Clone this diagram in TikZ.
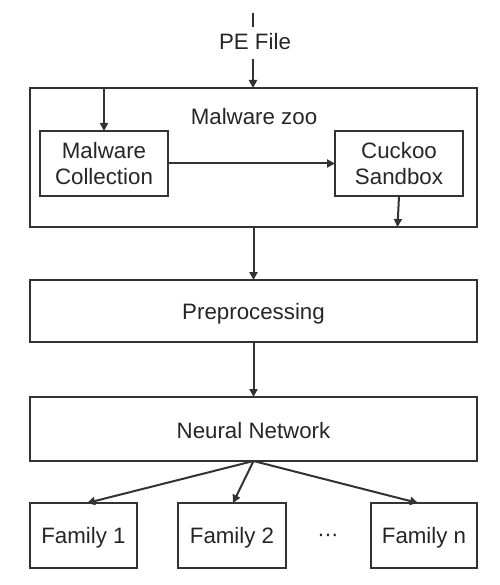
\documentclass[tikz,border=0pt]{standalone}
\usepackage{fontspec}
\setmainfont{Liberation Sans}
\usetikzlibrary{arrows.meta}
\definecolor{ln}{HTML}{333333}
\definecolor{tx}{HTML}{262626}
\newcommand{\lowr}[2]{\raisebox{-#1}[\height][\depth]{#2}}
\begin{document}
\begin{tikzpicture}[x=1pt,y=-1pt,
  every node/.style={text=tx,font=\fontsize{22.3}{26}\selectfont,inner sep=0pt,outer sep=0pt},
  box/.style={draw=ln,line width=2.2pt,align=center},
  arr/.style={draw=ln,line width=2pt,-{Triangle[length=8pt,width=8pt]}},
  ln/.style={draw=ln,line width=2pt}]
\useasboundingbox[fill=white] (0,0) rectangle (499,585);
% nodes
\coordinate (top) at (253,13);
\node (pe) at (255,42) [minimum height=30pt] {PE File};
\node[box,minimum width=447pt,minimum height=139pt] (zoo) at (253.5,157.5) {};
\node (zlabel) at (254,117) {Malware zoo};
\node[box,minimum width=128pt,minimum height=65pt] (mc) at (104,163.5) {Malware\\[0pt]Collection};
\node[box,minimum width=128pt,minimum height=65pt] (cs) at (399,163.5) {Cuckoo\\[0pt]Sandbox};
\node[box,minimum width=447pt,minimum height=62pt] (prep) at (253.5,311) {\lowr{3pt}{Preprocessing}};
\node[box,minimum width=447pt,minimum height=64pt] (nn) at (253.5,429) {\lowr{2pt}{Neural Network}};
\node[box,minimum width=107pt,minimum height=65pt] (f1) at (83.5,535.5) {\lowr{2pt}{Family 1}};
\node[box,minimum width=108pt,minimum height=65pt] (f2) at (232,535.5) {\lowr{2pt}{Family 2}};
\node (dots) at (328,538) {·\kern-0.5pt·\kern-0.5pt·};
\node[box,minimum width=106pt,minimum height=65pt] (fn) at (424,535.5) {\lowr{2pt}{Family n}};
% connectors
\draw[ln] (top) -- (top |- pe.north);
\draw[arr] ([yshift=-2pt]top |- pe.south) -- (top |- zoo.north);
\draw[arr] (zoo.north -| mc.north) -- (mc.north);
\draw[arr] (mc.east) -- (cs.west);
\draw[arr] (cs.south) -- ([xshift=-1.5pt]cs.south |- zoo.south);
\draw[arr] (zoo.south) -- (prep.north);
\draw[arr] (prep.south) -- (nn.north);
\draw[arr] (nn.south) -- ([xshift=3.5pt]f1.north);
\draw[arr] (nn.south) -- ([xshift=1pt]f2.north);
\draw[arr] (nn.south) -- ([xshift=-6pt]fn.north);
\end{tikzpicture}
\end{document}
